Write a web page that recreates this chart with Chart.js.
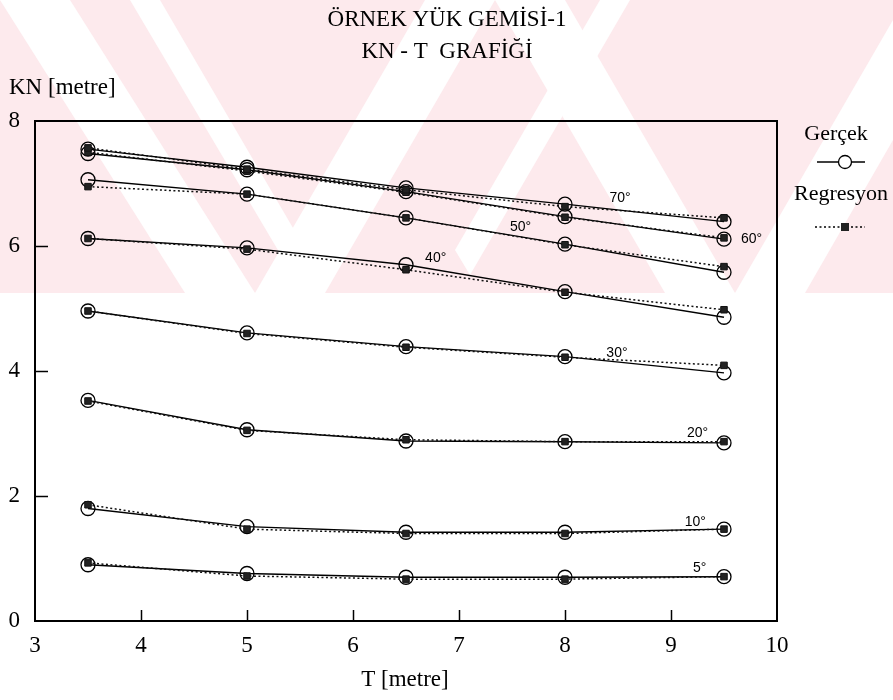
<!DOCTYPE html>
<html><head><meta charset="utf-8">
<script src="https://cdn.jsdelivr.net/npm/chart.js@4.4.0/dist/chart.umd.min.js"></script>
<style>html,body{margin:0;padding:0;background:#fff;}#wrap{width:893px;height:700px;}</style>
</head><body><div id="wrap"><canvas id="c" width="893" height="700"></canvas></div>
<script>
// ---- data ----
const draughts = [3.5, 5, 6.5, 8, 9.5];           // T [metre]
const angleNames = ['70°','60°','50°','40°','30°','20°','10°','5°'];
const xTicks = [3, 4, 5, 6, 7, 8, 9, 10];
const yTicks = [0, 2, 4, 6, 8];
// Gerçek (actual) KN values
const g70 = [7.55, 7.26, 6.93, 6.67, 6.39];
const g60 = [7.48, 7.22, 6.87, 6.47, 6.11];
const g50 = [7.06, 6.83, 6.45, 6.03, 5.58];
const g40 = [6.12, 5.97, 5.70, 5.27, 4.86];
const g30 = [4.96, 4.61, 4.39, 4.23, 3.97];
const g20 = [3.53, 3.06, 2.88, 2.87, 2.85];
const g10 = [1.80, 1.51, 1.42, 1.42, 1.47];
const g5  = [0.90, 0.76, 0.70, 0.70, 0.71];
// Regresyon KN values
const r70 = [7.57, 7.23, 6.90, 6.63, 6.45];
const r60 = [7.50, 7.20, 6.86, 6.46, 6.13];
const r50 = [6.95, 6.83, 6.45, 6.02, 5.67];
const r40 = [6.12, 5.95, 5.62, 5.26, 4.98];
const r30 = [4.96, 4.60, 4.38, 4.22, 4.09];
const r20 = [3.52, 3.05, 2.90, 2.87, 2.87];
const r10 = [1.86, 1.47, 1.40, 1.40, 1.47];
const r5  = [0.93, 0.72, 0.67, 0.67, 0.71];

const gercek = [g70, g60, g50, g40, g30, g20, g10, g5];
const regresyon = [r70, r60, r50, r40, r30, r20, r10, r5];

// ---- layout (label anchors in data units) ----
const angleLabelAnchors = [
  [8.52, 6.76], [9.76, 6.11], [7.58, 6.30], [6.78, 5.81],
  [8.49, 4.29], [9.25, 3.01], [9.23, 1.58], [9.27, 0.85]
];

const pts = arr => arr.map((v, i) => ({x: draughts[i], y: v}));
const datasets = [];
regresyon.forEach((arr, k) => datasets.push({
  label: 'Regresyon ' + angleNames[k], data: pts(arr), showLine: true,
  borderColor: '#111', borderWidth: 1.5, borderDash: [2, 2.5],
  pointStyle: 'rect', pointRadius: 4.6, pointBackgroundColor: '#222',
  pointBorderColor: '#111', pointBorderWidth: 1
}));
gercek.forEach((arr, k) => datasets.push({
  label: 'Gerçek ' + angleNames[k], data: pts(arr), showLine: true,
  borderColor: '#000', borderWidth: 1.5,
  pointStyle: 'circle', pointRadius: 7, pointBackgroundColor: 'rgba(0,0,0,0)',
  pointBorderColor: '#000', pointBorderWidth: 1.3
}));

const SERIF = '"Liberation Serif", "Times New Roman", serif';
const SANS = '"Liberation Sans", Arial, sans-serif';

const decor = {
  id: 'decor',
  beforeDraw(chart) {
    const ctx = chart.ctx;
    ctx.save();
    ctx.fillStyle = '#fff';
    ctx.fillRect(0, 0, chart.width, chart.height);
    // faint watermark band
    ctx.fillStyle = '#fdeaed';
    ctx.fillRect(0, 0, chart.width, 293);
    ctx.fillStyle = '#fff';
    const stripes = [
      [[0,0],[70,0],[255,293],[185,293]],
      [[255,293],[325,293],[495,0],[425,0]],
      [[495,0],[565,0],[735,293],[665,293]],
      [[735,293],[805,293],[893,140],[893,20]],
      [[130,0],[160,0],[300,240],[285,262]],
      [[600,0],[630,0],[470,275],[455,250]]
    ];
    stripes.forEach(p => {
      ctx.beginPath(); ctx.moveTo(p[0][0], p[0][1]);
      for (let i = 1; i < p.length; i++) ctx.lineTo(p[i][0], p[i][1]);
      ctx.closePath(); ctx.fill();
    });
    ctx.restore();
  },
  beforeDatasetsDraw(chart) {
    const {ctx, chartArea: a, scales: {x, y}} = chart;
    ctx.save();
    ctx.strokeStyle = '#000';
    ctx.lineWidth = 2;
    ctx.strokeRect(a.left, a.top, a.right - a.left, a.bottom - a.top);
    ctx.lineWidth = 1.5;
    xTicks.slice(1, -1).forEach(t => {
      const px = Math.round(x.getPixelForValue(t)) + 0.5;
      ctx.beginPath(); ctx.moveTo(px, a.bottom); ctx.lineTo(px, a.bottom - 11); ctx.stroke();
    });
    yTicks.slice(1, -1).forEach(t => {
      const py = Math.round(y.getPixelForValue(t)) + 0.5;
      ctx.beginPath(); ctx.moveTo(a.left, py); ctx.lineTo(a.left + 13, py); ctx.stroke();
    });
    ctx.restore();
  },
  afterDraw(chart) {
    const {ctx, scales: {x, y}} = chart;
    ctx.save();
    ctx.fillStyle = '#000';
    ctx.textBaseline = 'middle';
    ctx.font = '23px ' + SERIF;
    ctx.textAlign = 'center';
    ctx.fillText('ÖRNEK YÜK GEMİSİ-1', 447, 20);
    ctx.fillText('KN - T  GRAFİĞİ', 447, 52);
    ctx.fillText('T [metre]', 405, 680);
    ctx.textAlign = 'left';
    ctx.fillText('KN [metre]', 9, 88);
    // legend
    ctx.font = '22px ' + SERIF;
    ctx.textAlign = 'center';
    ctx.fillText('Gerçek', 836, 134);
    ctx.fillText('Regresyon', 841, 194);
    ctx.strokeStyle = '#000';
    ctx.lineWidth = 1.3;
    ctx.beginPath(); ctx.moveTo(817, 162); ctx.lineTo(865, 162); ctx.stroke();
    ctx.beginPath(); ctx.fillStyle = '#fff'; ctx.arc(845, 162, 6.5, 0, Math.PI * 2); ctx.fill(); ctx.stroke();
    ctx.setLineDash([2, 2.5]);
    ctx.beginPath(); ctx.moveTo(815, 227); ctx.lineTo(865, 227); ctx.stroke();
    ctx.setLineDash([]);
    ctx.fillStyle = '#222';
    ctx.fillRect(841, 223, 8, 8);
    // angle labels
    ctx.fillStyle = '#000';
    ctx.font = '14px ' + SANS;
    ctx.textAlign = 'center';
    angleNames.forEach((n, k) => {
      const [ax, ay] = angleLabelAnchors[k];
      ctx.fillText(n, x.getPixelForValue(ax), y.getPixelForValue(ay));
    });
    ctx.restore();
  }
};

new Chart(document.getElementById('c'), {
  type: 'scatter',
  data: { datasets },
  plugins: [decor],
  options: {
    responsive: false, animation: false, devicePixelRatio: 1,
    layout: { padding: { left: 0, right: 116, top: 121, bottom: 0 } },
    plugins: { legend: { display: false }, title: { display: false }, tooltip: { enabled: false } },
    scales: {
      x: {
        type: 'linear', min: 3, max: 10,
        afterFit: s => { s.height = 79; },
        afterBuildTicks: s => { s.ticks = xTicks.map(v => ({value: v})); },
        grid: { display: false, drawTicks: false }, border: { display: false },
        ticks: { color: '#000', padding: 11, font: { family: SERIF, size: 23 } }
      },
      y: {
        type: 'linear', min: 0, max: 8,
        afterFit: s => { s.width = 35; },
        afterBuildTicks: s => { s.ticks = yTicks.map(v => ({value: v})); },
        grid: { display: false, drawTicks: false }, border: { display: false },
        ticks: { color: '#000', padding: 15, font: { family: SERIF, size: 23 } }
      }
    }
  }
});
</script></body></html>
